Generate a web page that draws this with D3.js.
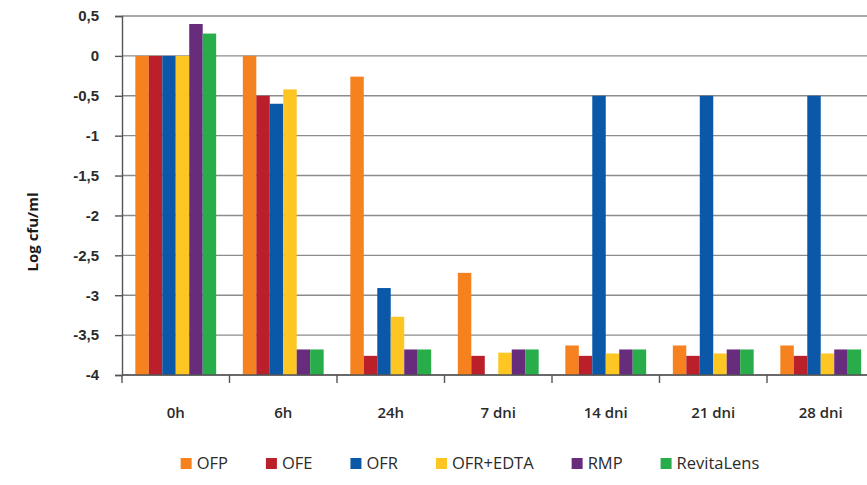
<!DOCTYPE html>
<html><head><meta charset="utf-8">
<script src="https://cdn.jsdelivr.net/npm/d3@7"></script>
<style>
html,body{margin:0;padding:0;background:#fff;}
svg{display:block;font-family:"Open Sans","Noto Sans",sans-serif;}
</style></head>
<body><svg id="c" width="867" height="485"></svg>
<script>
const categories = ["0h","6h","24h","7 dni","14 dni","21 dni","28 dni"];
const seriesNames = ["OFP","OFE","OFR","OFR+EDTA","RMP","RevitaLens"];
const seriesColors = ["#F5821F","#BA1F2A","#0C58A8","#FDC623","#682C7C","#28AD4A"];
const OFP      = [0, 0, -0.26, -2.72, -3.63, -3.63, -3.63];
const OFE      = [0, -0.5, -3.76, -3.76, -3.76, -3.76, -3.76];
const OFR      = [0, -0.6, -2.91, null, -0.5, -0.5, -0.5];
const OFR_EDTA = [0, -0.42, -3.27, -3.72, -3.73, -3.73, -3.73];
const RMP      = [0.4, -3.68, -3.68, -3.68, -3.68, -3.68, -3.68];
const REVITA   = [0.28, -3.68, -3.68, -3.68, -3.68, -3.68, -3.68];
const seriesValues = [OFP, OFE, OFR, OFR_EDTA, RMP, REVITA];
const yTicks = [0.5, 0, -0.5, -1, -1.5, -2, -2.5, -3, -3.5, -4];
const yLabel = "Log cfu/ml";

(function(){
const svg = d3.select("#c");
const mLeft = 122, mRight = 874.5, mTop = 16, mBottom = 375;
const y = d3.scaleLinear().domain([-4, 0.5]).range([mBottom, mTop]);
const x0 = d3.scaleBand().domain(categories).range([mLeft, mRight]).padding(0);
const off = x0.bandwidth() * 0.124;
const x1 = d3.scaleBand().domain(seriesNames).range([off, x0.bandwidth() - off]).padding(0);
const fmt = v => String(v).replace(".", ",");

// gridlines
svg.append("g").selectAll("line").data(yTicks).join("line")
  .attr("x1", mLeft).attr("x2", mRight)
  .attr("y1", d => y(d)).attr("y2", d => y(d))
  .attr("stroke", "#8c8c8c").attr("stroke-width", 1.4);

// bars
const g = svg.append("g");
seriesNames.forEach((s, si) => {
  g.append("g").selectAll("rect")
    .data(categories.map((c, ci) => ({c, v: seriesValues[si][ci]})).filter(d => d.v !== null))
    .join("rect")
    .attr("x", d => x0(d.c) + x1(s))
    .attr("width", x1.bandwidth())
    .attr("y", d => y(d.v))
    .attr("height", d => y(-4) - y(d.v))
    .attr("fill", seriesColors[si]);
});

// y axis
const yAxis = svg.append("g").attr("transform", `translate(${mLeft},0)`)
  .call(d3.axisLeft(y).tickValues(yTicks).tickSize(7).tickPadding(16).tickFormat(fmt));
yAxis.select(".domain").attr("stroke", "#555").attr("stroke-width", 1.4);
yAxis.selectAll(".tick line").attr("stroke", "#555").attr("stroke-width", 1.4);
yAxis.selectAll("text").attr("font-size", 15).attr("font-weight", 600).attr("fill", "#2b2b2b");

// x axis ticks at boundaries
const xAxis = svg.append("g").attr("transform", `translate(0,${mBottom})`);
xAxis.append("line").attr("x1", mLeft).attr("x2", mRight).attr("stroke", "#555").attr("stroke-width", 1.4);
xAxis.selectAll(".bt").data(categories.concat(["_end"])).join("line").attr("class","bt")
  .attr("x1", (d,i) => i < categories.length ? x0(d) : mRight)
  .attr("x2", (d,i) => i < categories.length ? x0(d) : mRight)
  .attr("y1", 0).attr("y2", 8).attr("stroke", "#555").attr("stroke-width", 1.4);
xAxis.selectAll(".xl").data(categories).join("text").attr("class","xl")
  .attr("x", d => x0(d) + x0.bandwidth()/2).attr("y", 43)
  .attr("text-anchor", "middle").attr("font-size", 15).attr("font-weight", 600).attr("fill", "#2b2b2b")
  .text(d => d);

// y label
svg.append("text").attr("transform", "translate(38,232) rotate(-90)")
  .attr("text-anchor", "middle").attr("font-size", 15).attr("font-weight", 700).attr("fill", "#1a1a1a")
  .text(yLabel);

// legend
const leg = svg.append("g");
let cx = 0;
const gap = 38;
seriesNames.forEach((s, i) => {
  const it = leg.append("g");
  it.append("rect").attr("x", 0).attr("y", -6).attr("width", 11).attr("height", 11).attr("fill", seriesColors[i]);
  const t = it.append("text").attr("x", 16).attr("y", 5).attr("font-size", 16.5).attr("fill", "#2b2b2b").text(s);
  const w = 16 + t.node().getComputedTextLength();
  it.attr("transform", `translate(${cx},0)`);
  cx += w + gap;
});
const total = cx - gap;
leg.attr("transform", `translate(${470 - total/2},464)`);
})();
</script></body></html>
